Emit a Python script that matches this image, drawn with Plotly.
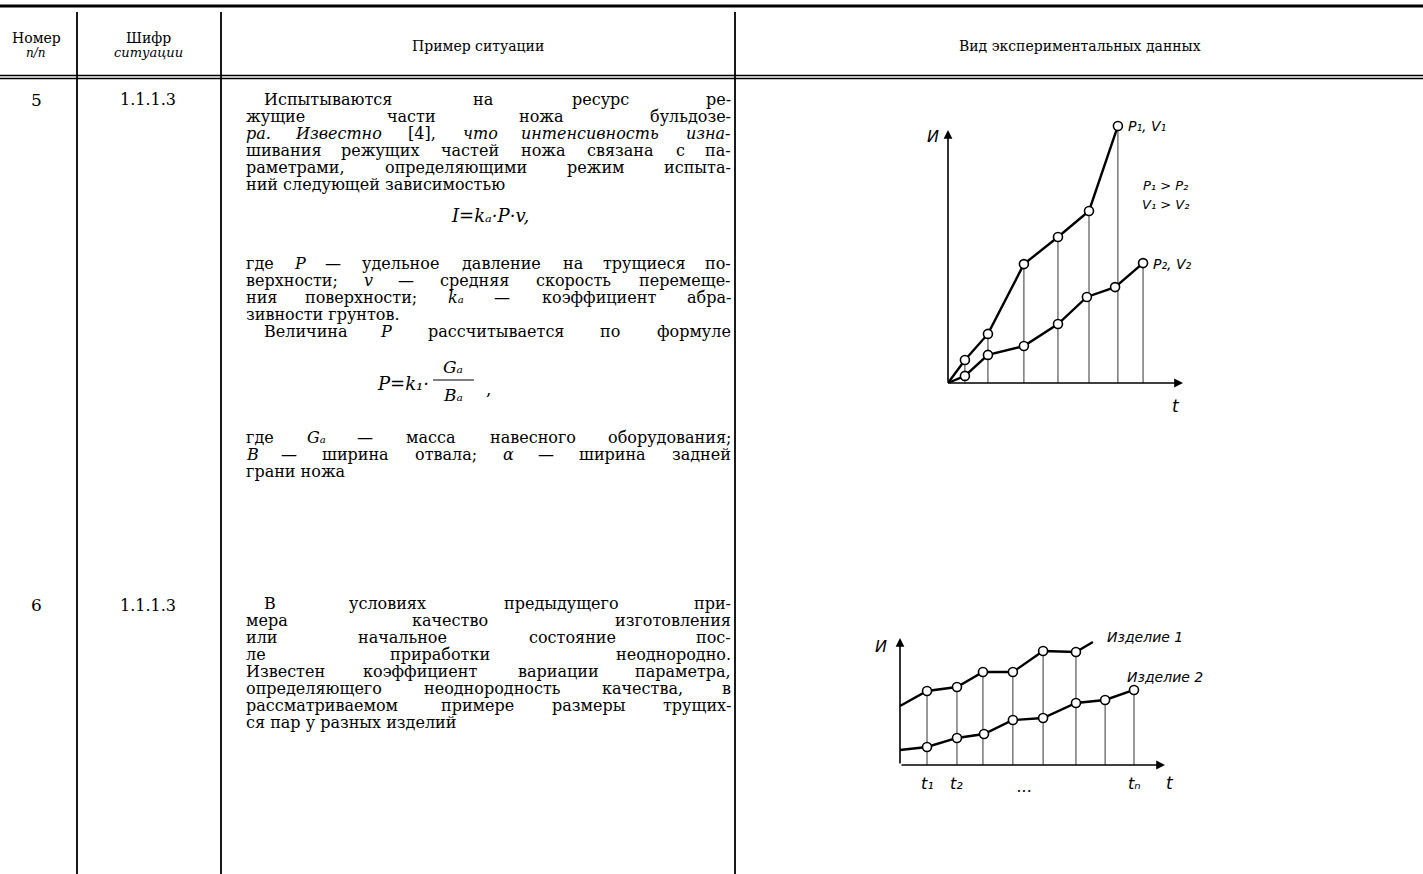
import re
import plotly.graph_objects as go

W, H = 1423, 874

# ---------------- data ----------------
header_cols = ["Номер", "Шифр", "Пример ситуации", "Вид экспериментальных данных"]
header_sub = ["п/п", "ситуации"]
row_numbers = ["5", "6"]
row_codes = ["1.1.1.3", "1.1.1.3"]

# words wrapped in <i>...</i> are set in italics
row5_text_a = [
    "Испытываются на ресурс ре-",
    "жущие части ножа бульдозе-",
    "<i>ра.</i> <i>Известно</i> [4], <i>что</i> <i>интенсивность</i> <i>изна-</i>",
    "шивания режущих частей ножа связана с па-",
    "раметрами, определяющими режим испыта-",
    "ний следующей зависимостью",
]
row5_formula1 = "<i>I=kₐ·P·v,</i>"
row5_text_b = [
    "где <i>P</i> — удельное давление на трущиеся по-",
    "верхности; <i>v</i> — средняя скорость перемеще-",
    "ния поверхности; <i>kₐ</i> — коэффициент абра-",
    "зивности грунтов.",
    "Величина <i>P</i> рассчитывается по формуле",
]
row5_formula2 = ["<i>P=k₁·</i>", "<i>Gₐ</i>", "<i>Bₐ</i>", ","]
row5_text_c = [
    "где <i>Gₐ</i> — масса навесного оборудования;",
    "<i>B</i> — ширина отвала; <i>α</i> — ширина задней",
    "грани ножа",
]
row6_text = [
    "В условиях предыдущего при-",
    "мера качество изготовления",
    "или начальное состояние пос-",
    "ле приработки неоднородно.",
    "Известен коэффициент вариации параметра,",
    "определяющего неоднородность качества, в",
    "рассматриваемом примере размеры трущих-",
    "ся пар у разных изделий",
]

# chart 1 (wear И vs time t)
c1_t1 = [0, 0.72, 1.70, 3.23, 4.68, 6.00, 7.23]
c1_i1 = [0, 0.91, 1.94, 4.70, 5.77, 6.80, 10.16]
c1_t2 = [0, 0.72, 1.70, 3.23, 4.68, 5.91, 7.11, 8.30]
c1_i2 = [0, 0.28, 1.11, 1.46, 2.33, 3.40, 3.79, 4.74]
c1_labels = ["P₁, V₁", "P₂, V₂", "P₁ > P₂", "V₁ > V₂"]

# chart 2
c2_t1 = [0, 1.02, 2.15, 3.13, 4.26, 5.40, 6.64, 7.28]
c2_i1 = [4.65, 5.83, 6.14, 7.32, 7.32, 8.98, 8.90, 9.69]
c2_t2 = [0, 1.02, 2.15, 3.17, 4.26, 5.40, 6.64, 7.74, 8.83]
c2_i2 = [1.18, 1.42, 2.13, 2.44, 3.54, 3.70, 4.88, 5.12, 5.91]
c2_labels = ["Изделие 1", "Изделие 2"]
c2_ticks = ["t₁", "t₂", "...", "tₙ"]
axis_labels = ["И", "t"]

# ---------------- helpers ----------------
def px(x):
    return x / W

def py(y):
    return 1 - y / H

SERIF = "DejaVu Serif"
SANS = "DejaVu Sans"
FS = 16

annotations = []
shapes = []

def split_style(s):
    if "<i>" in s:
        return re.sub(r"</?i>", "", s), "italic"
    return s, "normal"

def text(x, y, s, size=FS, family=SERIF, xanchor="center", yanchor="middle", style=None):
    t, st = split_style(s)
    if style:
        st = style
    annotations.append(dict(x=px(x), y=py(y), xref="paper", yref="paper", text=t,
                            showarrow=False, xanchor=xanchor, yanchor=yanchor,
                            font=dict(family=family, size=size, color="black", style=st)))

def hline(x0, x1, y, w=1.5):
    shapes.append(dict(type="line", xref="paper", yref="paper", x0=px(x0), x1=px(x1),
                       y0=py(y), y1=py(y), line=dict(color="black", width=w)))

def vline(x, y0, y1, w=1.5):
    shapes.append(dict(type="line", xref="paper", yref="paper", x0=px(x), x1=px(x),
                       y0=py(y0), y1=py(y1), line=dict(color="black", width=w)))

def char_w(c):
    if c in "жмшщыюфЖМШЩЫЮФ—":
        return 0.92
    if c in "иййнпцъдлкИЙНПЦДЛК":
        return 0.68
    if c.isupper():
        return 0.74
    if c in ".,;:· ":
        return 0.32
    if c in "-[]()":
        return 0.38
    if c.isdigit():
        return 0.64
    return 0.6

def word_w(s, size):
    plain = re.sub(r"<[^>]+>", "", s)
    return sum(char_w(c) for c in plain) * size

def line(s, y, left, right, justify=True, size=FS):
    toks = s.split(" ")
    if not justify or len(toks) == 1:
        text(left, y, s, size=size, xanchor="left")
        return
    ws = [word_w(t, size) for t in toks]
    gap = (right - left - sum(ws)) / (len(toks) - 1)
    x = left
    for i, (t, w) in enumerate(zip(toks, ws)):
        if i == 0:
            text(left, y, t, size=size, xanchor="left")
        elif i == len(toks) - 1:
            text(right, y, t, size=size, xanchor="right")
        else:
            text(x + w / 2, y, t, size=size, xanchor="center")
        x += w + gap

# ---------------- table frame ----------------
hline(0, W, 6, 3)
hline(0, W, 75.5, 1.4)
hline(0, W, 78.5, 1.4)
for xv in (77, 221, 735):
    vline(xv, 12, H, 1.8)

# header
text(36, 38, header_cols[0], size=14)
text(36, 53, header_sub[0], size=12, style="italic")
text(148, 38, header_cols[1], size=14)
text(148, 53, header_sub[1], size=13, style="italic")
text(478, 46, header_cols[2], size=14)
text(1080, 46, header_cols[3], size=14)

# rows
L, R, IND = 244, 733, 262
text(36, 100, row_numbers[0], size=17)
text(148, 100, row_codes[0], size=16)
text(36, 605, row_numbers[1], size=17)
text(148, 605, row_codes[1], size=16)

ys_a = [99, 116, 133, 150, 167, 184]
for i, s in enumerate(row5_text_a):
    line(s, ys_a[i], IND if i == 0 else L, R, justify=(i < len(row5_text_a) - 1))
text(490, 215, row5_formula1, size=18)

ys_b = [263, 280, 297, 314, 331]
for i, s in enumerate(row5_text_b):
    line(s, ys_b[i], IND if i == 4 else L, R, justify=(i != 3))

text(431, 384, row5_formula2[0], size=18, xanchor="right")
text(453, 367, row5_formula2[1], size=17)
text(453, 395, row5_formula2[2], size=17)
hline(433, 474, 380, 1.2)
text(488, 389, row5_formula2[3], size=17)

ys_c = [437, 454, 471]
for i, s in enumerate(row5_text_c):
    line(s, ys_c[i], L, R, justify=(i < 2))

ys_6 = [603, 620, 637, 654, 671, 688, 705, 722]
for i, s in enumerate(row6_text):
    line(s, ys_6[i], IND if i == 0 else L, R, justify=(i < len(row6_text) - 1))

# ---------------- charts ----------------
# chart 1 mapping: px = 948 + 23.5*t ; py = 383 - 25.3*I
c1x0, c1sx, c1y0, c1sy = 948, 23.5, 383, 25.3
c1xr, c1yr = [-1, 11.5], [-1, 11]
# chart 2 mapping
c2x0, c2sx, c2y0, c2sy = 900, 26.5, 765, 12.7
c2xr, c2yr = [-1.5, 11.5], [-2, 12]

def dom_x(x0, sx, r):
    return [px(x0 + sx * r[0]), px(x0 + sx * r[1])]

def dom_y(y0, sy, r):
    return [py(y0 - sy * r[0]), py(y0 - sy * r[1])]

fig = go.Figure()

def drops(ts, ys):
    xs, yy = [], []
    for t, v in zip(ts, ys):
        xs += [t, t, None]
        yy += [0, v, None]
    return xs, yy

line_style = dict(color="black", width=2.4)
mk = dict(symbol="circle", size=9, color="white", line=dict(color="black", width=1.6))

# chart 1 drop lines
dx, dy = drops(c1_t1[1:] + c1_t2[-1:], c1_i1[1:] + c1_i2[-1:])
fig.add_trace(go.Scatter(x=dx, y=dy, mode="lines", line=dict(color="black", width=0.8),
                         xaxis="x", yaxis="y", hoverinfo="skip"))
fig.add_trace(go.Scatter(x=c1_t1, y=c1_i1, mode="lines", line=line_style, xaxis="x", yaxis="y"))
fig.add_trace(go.Scatter(x=c1_t2, y=c1_i2, mode="lines", line=line_style, xaxis="x", yaxis="y"))
fig.add_trace(go.Scatter(x=c1_t1[1:], y=c1_i1[1:], mode="markers", marker=mk, xaxis="x", yaxis="y"))
fig.add_trace(go.Scatter(x=c1_t2[1:], y=c1_i2[1:], mode="markers", marker=mk, xaxis="x", yaxis="y"))

# chart 2 drop lines
dx, dy = drops(c2_t1[1:-1] + c2_t2[-2:], c2_i1[1:-1] + c2_i2[-2:])
fig.add_trace(go.Scatter(x=dx, y=dy, mode="lines", line=dict(color="black", width=0.8),
                         xaxis="x2", yaxis="y2", hoverinfo="skip"))
fig.add_trace(go.Scatter(x=c2_t1, y=c2_i1, mode="lines", line=line_style, xaxis="x2", yaxis="y2"))
fig.add_trace(go.Scatter(x=c2_t2, y=c2_i2, mode="lines", line=line_style, xaxis="x2", yaxis="y2"))
fig.add_trace(go.Scatter(x=c2_t1[1:-1], y=c2_i1[1:-1], mode="markers", marker=mk, xaxis="x2", yaxis="y2"))
fig.add_trace(go.Scatter(x=c2_t2[1:], y=c2_i2[1:], mode="markers", marker=mk, xaxis="x2", yaxis="y2"))

def arrow(xa, ya, x, y, ax, ay):
    annotations.append(dict(x=x, y=y, ax=ax, ay=ay, xref=xa, yref=ya, axref=xa, ayref=ya,
                            text="", showarrow=True, arrowhead=2, arrowsize=1.1,
                            arrowwidth=1.6, arrowcolor="black", standoff=0, startstandoff=0))

def dtext(xa, ya, x, y, s, size=14, xanchor="center", family=SANS, style="italic"):
    annotations.append(dict(x=x, y=y, xref=xa, yref=ya, text=s, showarrow=False,
                            xanchor=xanchor, yanchor="middle",
                            font=dict(family=family, size=size, color="black", style=style)))

# chart 1 axes
arrow("x", "y", 10, 0, 0, 0)
arrow("x", "y", 0, 10, 0, 0)
dtext("x", "y", -0.65, 9.75, axis_labels[0], 16)
dtext("x", "y", 9.7, -0.9, axis_labels[1], 17)
dtext("x", "y", c1_t1[-1] + 0.35, c1_i1[-1], c1_labels[0], 14, "left")
dtext("x", "y", c1_t2[-1] + 0.35, c1_i2[-1] - 0.05, c1_labels[1], 14, "left")
dtext("x", "y", 9.25, 7.8, c1_labels[2], 13)
dtext("x", "y", 9.25, 7.05, c1_labels[3], 13)

# chart 2 axes
arrow("x2", "y2", 10, 0, 0, 0)
arrow("x2", "y2", 0, 10, 0, 0)
dtext("x2", "y2", -0.7, 9.3, axis_labels[0], 16)
dtext("x2", "y2", 10.2, -1.45, axis_labels[1], 17)
dtext("x2", "y2", c2_t1[-1] + 0.45, 10.1, c2_labels[0], 14, "left")
dtext("x2", "y2", c2_t2[-1] - 0.35, 6.9, c2_labels[1], 14, "left")
tick_pos = [c2_t1[1], c2_t1[2], 4.7, c2_t2[-1]]
for tp, lab in zip(tick_pos, c2_ticks):
    dtext("x2", "y2", tp, -1.45 if lab != "..." else -1.7, lab, 16)

ax_common = dict(visible=False, showgrid=False, zeroline=False, fixedrange=True)
fig.update_layout(
    width=W, height=H, autosize=False,
    margin=dict(l=0, r=0, t=0, b=0, pad=0),
    paper_bgcolor="white", plot_bgcolor="rgba(0,0,0,0)",
    showlegend=False,
    xaxis=dict(domain=dom_x(c1x0, c1sx, c1xr), range=c1xr, anchor="y", **ax_common),
    yaxis=dict(domain=dom_y(c1y0, c1sy, c1yr), range=c1yr, anchor="x", **ax_common),
    xaxis2=dict(domain=dom_x(c2x0, c2sx, c2xr), range=c2xr, anchor="y2", **ax_common),
    yaxis2=dict(domain=dom_y(c2y0, c2sy, c2yr), range=c2yr, anchor="x2", **ax_common),
    annotations=annotations,
    shapes=shapes,
)

fig.write_html("out.html", config={"displayModeBar": False},
               post_script="document.body.style.margin='0';document.body.style.overflow='hidden';")
